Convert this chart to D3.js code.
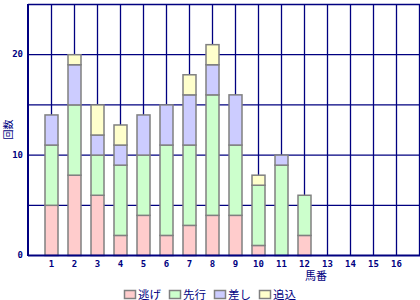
<!doctype html>
<html lang="ja">

<head>
  <title>馬番別 脚質</title>
  <meta charset="utf-8">
  <style>
    body { margin: 0; background: #fff; }
    #chart text { fill: #000080; }
  </style>
</head>

<body>
  <div id="chart"></div>

  <script src="https://d3js.org/d3.v7.min.js"></script>

  <script>
    // Data --------------------------------------------------------------------------------------------------------------
    const horses = d3.range(1, 17);
    const styles = ["逃げ", "先行", "差し", "追込"];
    const nige    = [5, 8, 6, 2, 4, 2, 3, 4, 4, 1, 0, 2, 0, 0, 0, 0];
    const senko   = [6, 7, 4, 7, 6, 9, 8, 12, 7, 6, 9, 4, 0, 0, 0, 0];
    const sashi   = [3, 4, 2, 2, 4, 4, 5, 3, 5, 0, 1, 0, 0, 0, 0, 0];
    const oikomi  = [0, 1, 3, 2, 0, 0, 2, 2, 0, 1, 0, 0, 0, 0, 0, 0];
    const yTicks = [0, 10, 20];
    const colors = ["#ffcccc", "#ccffcc", "#ccccff", "#ffffcc"];

    const rows = horses.map((h, i) => ({
      horse: h,
      "逃げ": nige[i],
      "先行": senko[i],
      "差し": sashi[i],
      "追込": oikomi[i]
    }));

    // Canvas ------------------------------------------------------------------------------------------------------------
    const width = 420;
    const height = 300;
    const plotLeft = 28, plotRight = 419, plotTop = 4, plotBottom = 255;
    const navy = "#000080";

    const svg = d3.select("#chart")
      .append("svg")
      .attr("width", width)
      .attr("height", height)
      .style("display", "block");

    const x = d3.scaleLinear().domain([0, 17]).range([plotLeft, plotRight]);
    const y = d3.scaleLinear().domain([0, 25]).range([plotBottom, plotTop]);
    const color = d3.scaleOrdinal(styles, colors);

    // Grid --------------------------------------------------------------------------------------------------------------
    svg.append("g")
      .selectAll("line")
      .data(d3.range(5, 26, 5))
      .join("line")
      .attr("x1", plotLeft).attr("x2", width)
      .attr("y1", d => y(d) + 0.5).attr("y2", d => y(d) + 0.5)
      .attr("stroke", navy)
      .attr("stroke-width", 1.3);

    svg.append("g")
      .selectAll("line")
      .data(d3.range(1, 18))
      .join("line")
      .attr("x1", d => x(d) + 0.5).attr("x2", d => x(d) + 0.5)
      .attr("y1", plotTop).attr("y2", plotBottom)
      .attr("stroke", navy)
      .attr("stroke-width", 1.3);

    // Bars --------------------------------------------------------------------------------------------------------------
    const series = d3.stack().keys(styles)(rows);
    const barWidth = 13;

    svg.append("g")
      .selectAll("g")
      .data(series)
      .join("g")
      .attr("fill", d => color(d.key))
      .selectAll("rect")
      .data(d => d.filter(s => s[1] > s[0]))
      .join("rect")
      .attr("x", d => x(d.data.horse) - barWidth / 2 + 0.5)
      .attr("y", d => y(d[1]) + 0.5)
      .attr("width", barWidth)
      .attr("height", d => y(d[0]) - y(d[1]))
      .attr("stroke", "#808080")
      .attr("stroke-width", 1.5);

    // Axes --------------------------------------------------------------------------------------------------------------
    svg.append("line")
      .attr("x1", plotLeft).attr("x2", plotLeft)
      .attr("y1", plotTop).attr("y2", plotBottom + 1)
      .attr("stroke", navy).attr("stroke-width", 2);

    svg.append("line")
      .attr("x1", plotLeft).attr("x2", width)
      .attr("y1", plotBottom + 0.5).attr("y2", plotBottom + 0.5)
      .attr("stroke", navy).attr("stroke-width", 2);

    svg.append("g")
      .selectAll("text")
      .data(yTicks)
      .join("text")
      .attr("x", 23)
      .attr("y", d => y(d) + 3)
      .attr("text-anchor", "end")
      .style("font", "bold 9px 'DejaVu Sans Mono'")
      .text(d => d);

    svg.append("g")
      .selectAll("text")
      .data(horses)
      .join("text")
      .attr("x", d => x(d) + 0.5)
      .attr("y", 267)
      .attr("text-anchor", "middle")
      .style("font", "bold 9px 'DejaVu Sans Mono'")
      .text(d => d);

    svg.append("text")
      .attr("x", 316)
      .attr("y", 280)
      .attr("text-anchor", "middle")
      .style("font", "11px 'Noto Sans CJK JP'")
      .text("馬番");

    svg.append("text")
      .attr("transform", "translate(12," + (plotTop + plotBottom) / 2 + ") rotate(-90)")
      .attr("text-anchor", "middle")
      .style("font", "10px 'Noto Sans CJK JP'")
      .text("回数");

    // Legend ------------------------------------------------------------------------------------------------------------
    const legend = svg.append("g")
      .selectAll("g")
      .data(styles)
      .join("g")
      .attr("transform", (d, i) => "translate(" + (124 + i * 45) + ",290)");

    legend.append("rect")
      .attr("x", 0.5).attr("y", 0.5)
      .attr("width", 11).attr("height", 8)
      .attr("fill", d => color(d))
      .attr("stroke", "#808080")
      .attr("stroke-width", 1.5);

    legend.append("text")
      .attr("x", 14)
      .attr("y", 8.5)
      .style("font", "11.5px 'Noto Sans CJK JP'")
      .text(d => d);
  </script>

</body>

</html>
